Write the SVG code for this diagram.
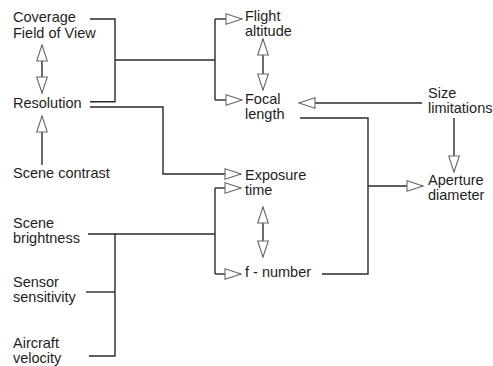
<svg xmlns="http://www.w3.org/2000/svg" width="493" height="366" viewBox="0 0 493 366">
<style>
text{font-family:"Liberation Sans",Arial,sans-serif;font-size:14.5px;fill:#1e1e1e}
.c{fill:none;stroke:#2a2a2a;stroke-width:1.4}
.a{fill:none;stroke:#2a2a2a;stroke-width:1.4;marker-end:url(#ah)}
.d{fill:none;stroke:#2a2a2a;stroke-width:1.4;marker-end:url(#ah);marker-start:url(#ah)}
</style>
<defs>
<marker id="ah" markerUnits="userSpaceOnUse" markerWidth="18" markerHeight="13" refX="16" refY="6" orient="auto-start-reverse" viewBox="-1 0 18 12">
<path d="M0,0.7 L16,6 L0,11.3 Z" fill="#fff" stroke="#6a6a6a" stroke-width="1.1"/>
</marker>
</defs>
<rect width="493" height="366" fill="#fff"/>
<g id="connectors">
<path class="c" d="M90,19 H115 V101.7 H90"/>
<path class="c" d="M115,60 H215"/>
<path class="c" d="M215,19 V100"/>
<path class="a" d="M215,19 H242"/>
<path class="a" d="M215,100 H242"/>
<path class="a" d="M90,107 H163 V174 H241"/>
<path class="c" d="M88,234 H115 V356 H89"/>
<path class="c" d="M86,292 H115"/>
<path class="c" d="M115,234 H215"/>
<path class="c" d="M215,188 V274"/>
<path class="a" d="M215,188 H241"/>
<path class="a" d="M215,274 H241"/>
<path class="c" d="M322,274 H368 V118 H300"/>
<path class="a" d="M368,186 H423"/>
<path class="a" d="M422,103 H299"/>
<path class="a" d="M454,118 V172"/>
<path class="d" d="M42,45 V93"/>
<path class="d" d="M263,39 V90"/>
<path class="d" d="M263,207 V257"/>
<path class="a" d="M42,165 V116"/>
</g>
<g id="coverage"><text x="13" y="22">Coverage</text><text x="13" y="37.5">Field of View</text></g>
<g id="resolution"><text x="13" y="108">Resolution</text></g>
<g id="scene-contrast"><text x="13" y="178">Scene contrast</text></g>
<g id="scene-brightness"><text x="13" y="228">Scene</text><text x="13" y="243">brightness</text></g>
<g id="sensor-sensitivity"><text x="13" y="287">Sensor</text><text x="13" y="302">sensitivity</text></g>
<g id="aircraft-velocity"><text x="13" y="348">Aircraft</text><text x="13" y="363">velocity</text></g>
<g id="flight-altitude"><text x="245" y="21">Flight</text><text x="245" y="36">altitude</text></g>
<g id="focal-length"><text x="245" y="104">Focal</text><text x="245" y="118.5">length</text></g>
<g id="exposure-time"><text x="245" y="180">Exposure</text><text x="245" y="195">time</text></g>
<g id="f-number"><text x="245" y="277">f - number</text></g>
<g id="size-limitations"><text x="428" y="98">Size</text><text x="428" y="113">limitations</text></g>
<g id="aperture-diameter"><text x="428" y="185">Aperture</text><text x="428" y="200">diameter</text></g>
</svg>
